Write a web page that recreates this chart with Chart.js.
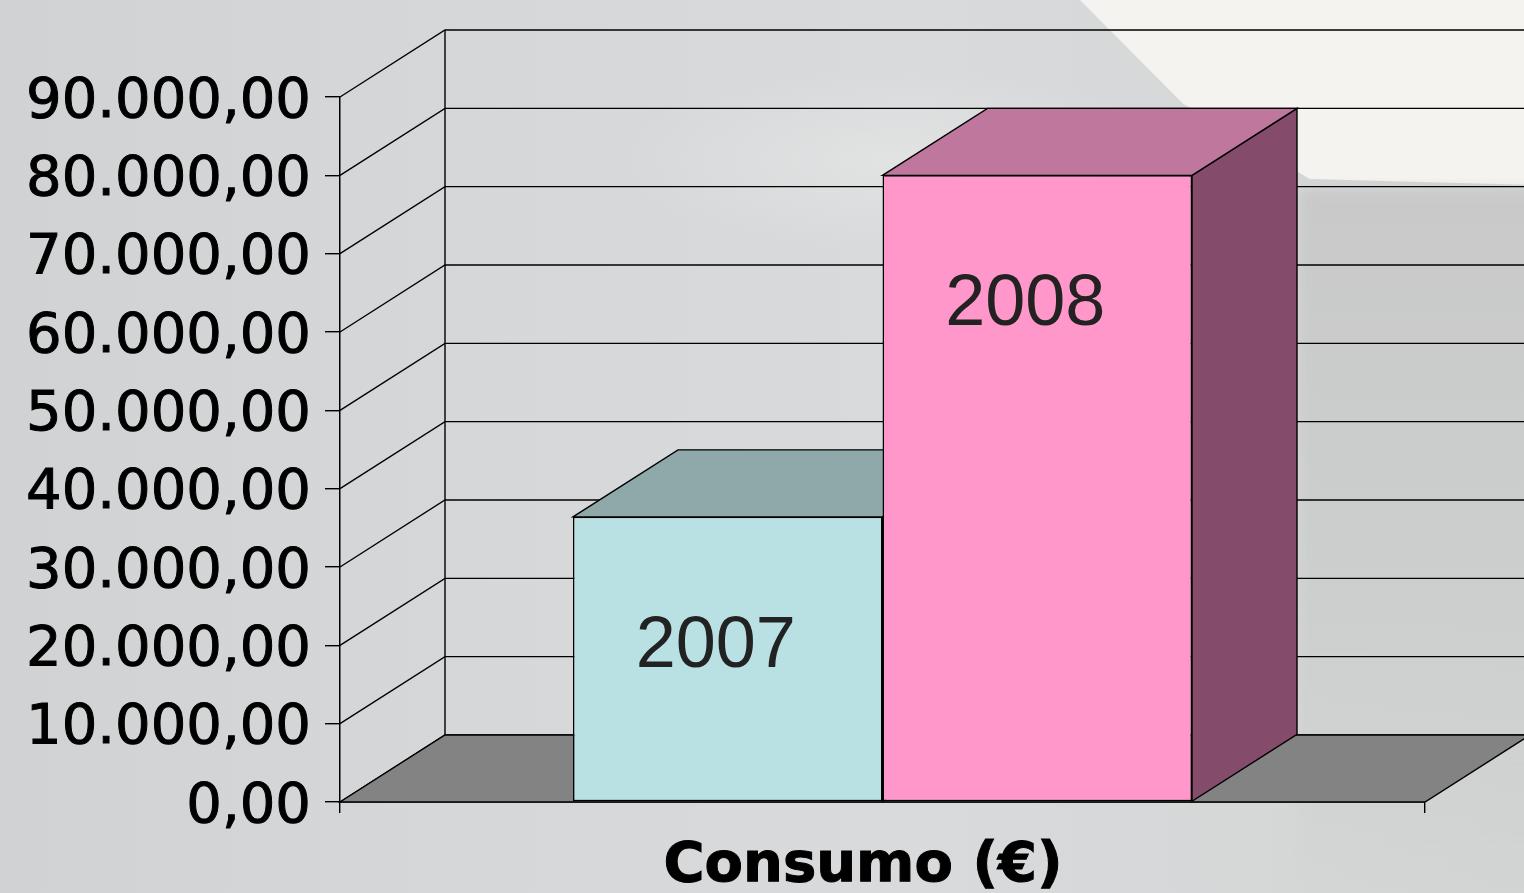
<!DOCTYPE html>
<html>
<head>
<meta charset="utf-8">
<script src="https://cdn.jsdelivr.net/npm/chart.js@4.4.1/dist/chart.umd.min.js"></script>
<style>
  html, body { margin: 0; padding: 0; overflow: hidden; }
  body {
    width: 1524px; height: 893px; position: relative;
    background: linear-gradient(to right, #d0d2d3 0%, #d5d7d8 30%, #d8dadb 60%, #d3d5d5 100%);
  }
  .bg { position: absolute; }
  #lite {
    left: 1070px; top: -10px; width: 470px; height: 210px;
    background: #f5f3ef;
    clip-path: polygon(0 0, 100% 0, 100% 93%, 51% 90%, 24% 54%);
    filter: blur(7px);
  }
  #dark {
    left: 1300px; top: 190px; width: 240px; height: 720px;
    background: linear-gradient(to bottom, #c8c9c8, #cdcfcf 60%, rgba(211,213,213,0));
    filter: blur(6px);
  }
  #soft {
    left: 620px; top: 70px; width: 560px; height: 180px;
    background: radial-gradient(closest-side, rgba(228,229,229,0.8), rgba(220,221,222,0));
  }
  canvas { position: absolute; left: 0; top: 0; }
</style>
</head>
<body>
<div class="bg" id="soft"></div>
<div class="bg" id="lite"></div>
<div class="bg" id="dark"></div>
<canvas id="bar-chart" width="1524" height="893"></canvas>
<script>
const categories = ["Consumo (€)"];
const seriesNames = ["2007", "2008"];
const consumo2007 = [36400];
const consumo2008 = [80000];
const yMin = 0;
const yMax = 90000;
const yStep = 10000;

// fake 3D depth (excel style)
const DX = 105;
const DY = -67;

function fmtPt(v) {
  let s = Math.abs(v).toFixed(2).split(".");
  s[0] = s[0].replace(/\B(?=(\d{3})+(?!\d))/g, ".");
  return s[0] + "," + s[1];
}

function poly(ctx, pts, fill) {
  ctx.beginPath();
  ctx.moveTo(pts[0][0], pts[0][1]);
  for (let i = 1; i < pts.length; i++) ctx.lineTo(pts[i][0], pts[i][1]);
  ctx.closePath();
  if (fill) { ctx.fillStyle = fill; ctx.fill(); }
  ctx.stroke();
}

const faces = [
  { top: "#8fa9ab", side: "#6f8a8c" },
  { top: "#c0779d", side: "#844c6a" }
];

const box3d = {
  id: "box3d",
  beforeDatasetsDraw(chart) {
    const ctx = chart.ctx;
    const y = chart.scales.y;
    const x = chart.scales.x;
    const L = x.left, R = x.right;
    ctx.save();
    ctx.strokeStyle = "#000";
    ctx.lineWidth = 1.4;
    // walls + grid
    for (let v = yMin; v <= yMax; v += yStep) {
      const py = y.getPixelForValue(v);
      ctx.beginPath();
      ctx.moveTo(L, py);
      ctx.lineTo(L + DX, py + DY);
      ctx.lineTo(R + DX + 10, py + DY);
      ctx.stroke();
    }
    ctx.beginPath();
    ctx.moveTo(L + DX, y.getPixelForValue(yMax) + DY);
    ctx.lineTo(L + DX, y.getPixelForValue(yMin) + DY);
    ctx.stroke();
    // floor
    const b = y.getPixelForValue(0);
    poly(ctx, [[L, b], [R, b], [R + DX, b + DY], [L + DX, b + DY]], "#838383");
    // bar tops and sides
    chart.data.datasets.forEach((ds, i) => {
      const meta = chart.getDatasetMeta(i);
      meta.data.forEach(el => {
        const l = el.x - el.width / 2, r = el.x + el.width / 2;
        const t = el.y, bt = el.base;
        poly(ctx, [[r, t], [r + DX, t + DY], [r + DX, bt + DY], [r, bt]], faces[i].side);
        poly(ctx, [[l, t], [r, t], [r + DX, t + DY], [l + DX, t + DY]], faces[i].top);
      });
    });
    ctx.restore();
  },
  afterDatasetsDraw(chart) {
    const ctx = chart.ctx;
    ctx.save();
    ctx.font = "72px 'Liberation Sans', Arial, sans-serif";
    ctx.fillStyle = "#222";
    ctx.textAlign = "center";
    ctx.textBaseline = "alphabetic";
    chart.data.datasets.forEach((ds, i) => {
      chart.getDatasetMeta(i).data.forEach(el => {
        ctx.fillText(ds.label, el.x - 12, el.y + 150);
      });
    });
    ctx.restore();
  }
};

const CHART = document.getElementById("bar-chart");

let chartBar = new Chart(CHART, {
  type: "bar",
  data: {
    labels: categories,
    datasets: [
      {
        label: seriesNames[0],
        data: consumo2007,
        backgroundColor: "#b9e1e4",
        borderColor: "#000",
        borderWidth: 1.5,
        borderSkipped: false
      },
      {
        label: seriesNames[1],
        data: consumo2008,
        backgroundColor: "#ff97ca",
        borderColor: "#000",
        borderWidth: 1.5,
        borderSkipped: false
      }
    ]
  },
  options: {
    responsive: false,
    animation: false,
    devicePixelRatio: 1,
    layout: { padding: { top: 97, right: 99, left: 0, bottom: 0 } },
    categoryPercentage: 0.5705,
    barPercentage: 1,
    plugins: {
      legend: { display: false },
      tooltip: { enabled: false }
    },
    scales: {
      x: {
        afterFit: (s) => { s.height = 91; },
        grid: { drawOnChartArea: false, tickLength: 11, color: "#000", lineWidth: 1.4 },
        border: { color: "#000", width: 1.5 },
        ticks: {
          color: "#000",
          padding: 20,
          textStrokeColor: "#000",
          textStrokeWidth: 1,
          font: { family: "'DejaVu Sans'", size: 56, weight: "bold" },
          // trailing spaces nudge the centred label a bit to the left
          callback: (v, i) => categories[i] + "  "
        }
      },
      y: {
        min: yMin,
        max: yMax,
        afterFit: (s) => { s.width = 340; },
        grid: { drawOnChartArea: false, tickLength: 15, color: "#000", lineWidth: 1.4 },
        border: { color: "#000", width: 1.5 },
        ticks: {
          stepSize: yStep,
          color: "#000",
          padding: 14,
          textStrokeColor: "#000",
          textStrokeWidth: 1,
          font: { family: "'DejaVu Sans'", size: 56, lineHeight: "10px" },
          // empty first line pushes the text down a few px
          callback: (v) => ["", fmtPt(v)]
        }
      }
    }
  },
  plugins: [box3d]
});
</script>
</body>
</html>
